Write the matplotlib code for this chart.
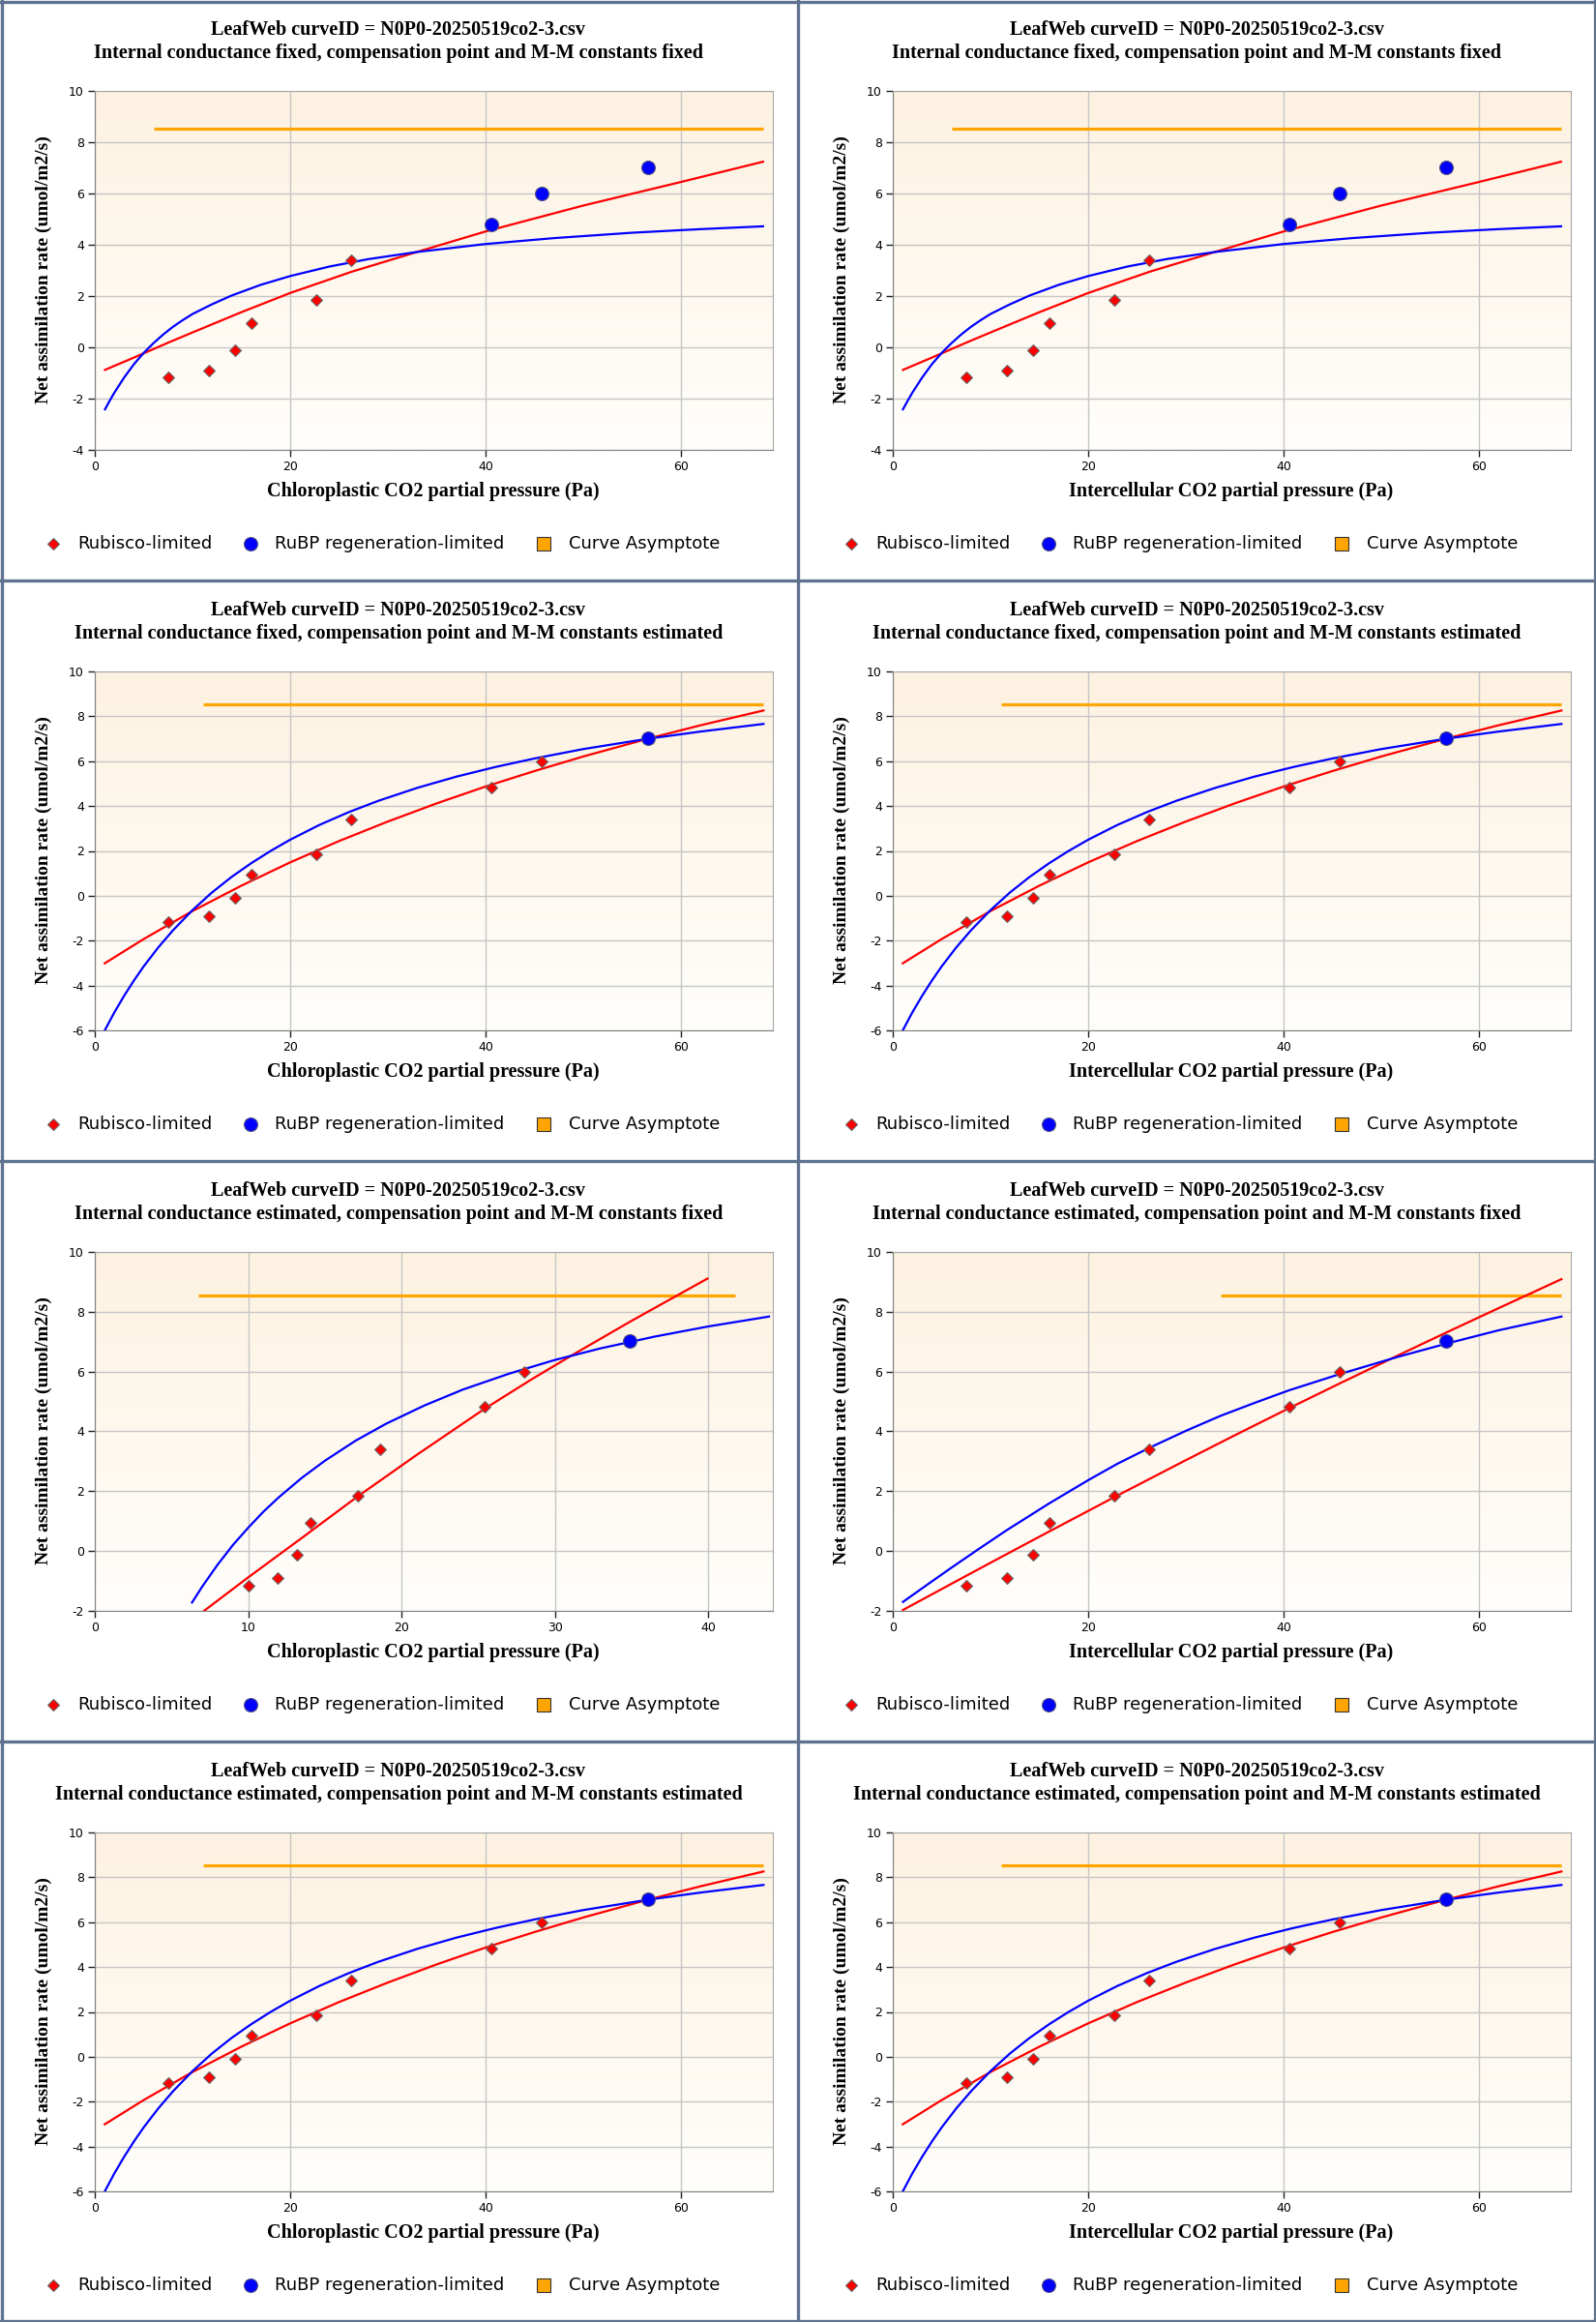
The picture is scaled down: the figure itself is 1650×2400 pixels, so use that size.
import numpy as np
import matplotlib.pyplot as plt
from matplotlib.lines import Line2D
from matplotlib.colors import LinearSegmentedColormap

plt.rcParams['axes.unicode_minus'] = False

# figure size in pixels and panel size
FIG_W, FIG_H = 1650, 2400
PW, PH = 825, 600

# measured CO2 partial pressure (Pa) and net assimilation (umol/m2/s)
ci_obs = [7.5, 11.67, 14.32, 16.04, 22.66, 26.25, 40.55, 45.78, 56.61]
cc_est_obs = [10.0, 11.89, 13.18, 14.04, 17.12, 18.63, 25.42, 27.97, 34.87]
a_obs = [-1.17, -0.91, -0.11, 0.93, 1.86, 3.39, 4.81, 6.0, 7.02]

asym_y = 8.53

# gm fixed, compensation point / M-M constants fixed (Cc and Ci view look the same)
ff_rub_x = [1.04, 4, 7.5, 10, 15, 20, 26.3, 33.5, 40, 50, 60, 68.4]
ff_rub_y = [-0.88, -0.4, 0.18, 0.58, 1.37, 2.12, 2.95, 3.78, 4.52, 5.53, 6.45, 7.24]
ff_rubp_x = [1.04, 1.5, 2, 3, 4, 5, 6, 7, 8, 9, 10, 12, 14, 17, 20, 24, 28, 33, 40, 47, 55, 62, 68.4]
ff_rubp_y = [-2.42, -2.1, -1.77, -1.18, -0.66, -0.22, 0.16, 0.5, 0.8, 1.06, 1.3, 1.68, 2.02,
             2.44, 2.78, 3.15, 3.44, 3.72, 4.03, 4.26, 4.47, 4.61, 4.72]
ff_asym_x = [6.04, 68.44]

# compensation point / M-M constants estimated (gm fixed and gm estimated look the same)
ke_rub_x = [1.02, 5, 10, 15, 20, 25, 30, 35, 40, 45, 50, 56.6, 62, 68.44]
ke_rub_y = [-3.01, -1.93, -0.68, 0.45, 1.49, 2.44, 3.31, 4.12, 4.87, 5.56, 6.21, 7.0, 7.6, 8.26]
ke_rubp_x = [1.02, 2, 3, 4, 5, 6.5, 8, 10, 12, 14, 16, 18, 20, 23, 26, 29, 33, 37, 41, 45, 50,
             56.6, 62, 68.44]
ke_rubp_y = [-6.0, -5.2, -4.46, -3.78, -3.15, -2.3, -1.54, -0.64, 0.15, 0.84, 1.45, 2.0, 2.5,
             3.16, 3.73, 4.23, 4.81, 5.31, 5.74, 6.12, 6.54, 7.0, 7.32, 7.66]
ke_asym_x = [11.04, 68.44]

# gm estimated, constants fixed, chloroplastic view
gc_rub_x = [7.12, 10, 13.5, 17.12, 21, 25.42, 28.5, 31.12, 35, 39.94]
gc_rub_y = [-2.0, -0.88, 0.44, 1.82, 3.22, 4.76, 5.75, 6.55, 7.7, 9.11]
gc_rubp_x = [6.34, 7, 8, 9, 10, 11, 12, 13.5, 15, 17, 19, 21.5, 24, 27, 30, 33, 36.5, 40, 43.95]
gc_rubp_y = [-1.72, -1.19, -0.46, 0.2, 0.78, 1.32, 1.8, 2.45, 3.02, 3.69, 4.26, 4.87, 5.4,
             5.93, 6.39, 6.78, 7.17, 7.51, 7.84]
gc_asym_x = [6.76, 41.73]

# gm estimated, constants fixed, intercellular view
gi_rub_x = [1.04, 7.5, 11.67, 16.04, 22.66, 30, 35, 40.52, 45.78, 51.77, 56.61, 62, 68.44]
gi_rub_y = [-1.97, -0.83, -0.1, 0.66, 1.8, 3.04, 3.87, 4.77, 5.61, 6.55, 7.3, 8.12, 9.09]
gi_rubp_x = [1.04, 3.5, 5.94, 8.8, 11.67, 16.04, 20, 23, 26.25, 30, 33.54, 37, 40.52, 45.78,
             51.77, 56.61, 62, 68.44]
gi_rubp_y = [-1.7, -1.13, -0.57, 0.07, 0.7, 1.6, 2.37, 2.92, 3.45, 4.02, 4.52, 4.95, 5.37, 5.92,
             6.5, 6.93, 7.38, 7.84]
gi_asym_x = [33.54, 68.44]

title1 = 'LeafWeb curveID = N0P0-20250519co2-3.csv'
legend_labels = ['Rubisco-limited', 'RuBP regeneration-limited', 'Curve Asymptote']

serif = ['Liberation Serif', 'DejaVu Serif']
sans = ['DejaVu Sans']

bg_cmap = LinearSegmentedColormap.from_list('bg', ['#fdf2e1', '#fffefb'])

fig = plt.figure(figsize=(FIG_W / 100, FIG_H / 100), dpi=100)
fig.patch.set_facecolor('white')


def fx(px):
    return px / FIG_W


def fy(py):
    return 1 - py / FIG_H


def draw_panel(row, col, gm, kin, xname, obs_x, n_rub, rub_x, rub_y, rubp_x, rubp_y,
               asym_x, xmax, ymin, xticks):
    x0, y0 = PW * col, PH * row
    ax = fig.add_axes([fx(x0 + 98), fy(y0 + 465), 701 / FIG_W, 371 / FIG_H])
    ax.imshow(np.linspace(0, 1, 256).reshape(-1, 1), cmap=bg_cmap, aspect='auto',
              extent=[0, 1, 0, 1], transform=ax.transAxes, zorder=0)
    ax.set_axisbelow(True)
    ax.grid(True, color='#c6c6c6', lw=1.0)

    ax.plot(asym_x, [asym_y, asym_y], color='#ffa500', lw=2.3, zorder=3, solid_capstyle='butt')
    ax.plot(rub_x, rub_y, color='#ff0000', lw=1.6, zorder=3)
    ax.plot(rubp_x, rubp_y, color='#0000ff', lw=1.6, zorder=3)
    ax.plot(obs_x[:n_rub], a_obs[:n_rub], 'D', ms=6.6, mfc='#ff0000', mec='#6a6a6a',
            mew=0.8, zorder=4)
    ax.plot(obs_x[n_rub:], a_obs[n_rub:], 'o', ms=10, mfc='#0000ff', mec='#505080',
            mew=0.8, zorder=4)

    ax.set_xlim(0, xmax)
    ax.set_ylim(ymin, 10)
    ax.set_xticks(xticks)
    ax.set_yticks(np.arange(ymin, 11, 2))
    for s in ax.spines.values():
        s.set_color('#a8a8a8')
    ax.spines['left'].set_color('#808080')
    ax.spines['bottom'].set_color('#808080')
    ax.tick_params(direction='out', length=5, width=1, color='#222222',
                   labelsize=9, pad=3)
    for lab in ax.get_xticklabels() + ax.get_yticklabels():
        lab.set_family(sans)

    cx = x0 + 412
    fig.text(fx(cx), fy(y0 + 31), title1, ha='center', va='center',
             fontsize=14.5, fontweight='bold', family=serif)
    fig.text(fx(cx), fy(y0 + 55),
             'Internal conductance %s, compensation point and M-M constants %s' % (gm, kin),
             ha='center', va='center', fontsize=14.5, fontweight='bold', family=serif)
    fig.text(fx(x0 + 448), fy(y0 + 508), '%s CO2 partial pressure (Pa)' % xname,
             ha='center', va='center', fontsize=14.5, fontweight='bold', family=serif)
    fig.text(fx(x0 + 45), fy(y0 + 279), 'Net assimilation rate (umol/m2/s)',
             ha='center', va='center', rotation=90, fontsize=14, fontweight='bold',
             family=serif)

    # legend row
    ly = fy(y0 + 562)
    fig.add_artist(Line2D([fx(x0 + 55)], [ly], marker='D', ms=6.4, mfc='#ff0000',
                          mec='#6a6a6a', mew=0.8, transform=fig.transFigure))
    fig.add_artist(Line2D([fx(x0 + 259)], [ly], marker='o', ms=10, mfc='#0000ff',
                          mec='#505080', mew=0.8, transform=fig.transFigure))
    fig.add_artist(Line2D([fx(x0 + 562)], [ly], marker='s', ms=10, mfc='#ffa500',
                          mec='#333333', mew=0.8, transform=fig.transFigure))
    for px, lab in zip([80, 284, 588], legend_labels):
        fig.text(fx(x0 + px), ly, lab, ha='left', va='center', fontsize=13, family=sans)


xt70 = [0, 20, 40, 60]
for c, name in enumerate(['Chloroplastic', 'Intercellular']):
    draw_panel(0, c, 'fixed', 'fixed', name, ci_obs, 6, ff_rub_x, ff_rub_y,
               ff_rubp_x, ff_rubp_y, ff_asym_x, 69.4, -4, xt70)
    draw_panel(1, c, 'fixed', 'estimated', name, ci_obs, 8, ke_rub_x, ke_rub_y,
               ke_rubp_x, ke_rubp_y, ke_asym_x, 69.4, -6, xt70)
    draw_panel(3, c, 'estimated', 'estimated', name, ci_obs, 8, ke_rub_x, ke_rub_y,
               ke_rubp_x, ke_rubp_y, ke_asym_x, 69.4, -6, xt70)

draw_panel(2, 0, 'estimated', 'fixed', 'Chloroplastic', cc_est_obs, 8, gc_rub_x, gc_rub_y,
           gc_rubp_x, gc_rubp_y, gc_asym_x, 44.2, -2, [0, 10, 20, 30, 40])
draw_panel(2, 1, 'estimated', 'fixed', 'Intercellular', ci_obs, 8, gi_rub_x, gi_rub_y,
           gi_rubp_x, gi_rubp_y, gi_asym_x, 69.4, -2, xt70)

# panel borders
bc = '#5f7391'
for px in [1.5, 825, 1648.5]:
    fig.add_artist(Line2D([fx(px), fx(px)], [0, 1], color=bc, lw=2.4,
                          transform=fig.transFigure))
for py in [1.5, 600, 1200, 1800, 2398.5]:
    fig.add_artist(Line2D([0, 1], [fy(py), fy(py)], color=bc, lw=2.4,
                          transform=fig.transFigure))

fig.savefig('out.png', dpi=100)
